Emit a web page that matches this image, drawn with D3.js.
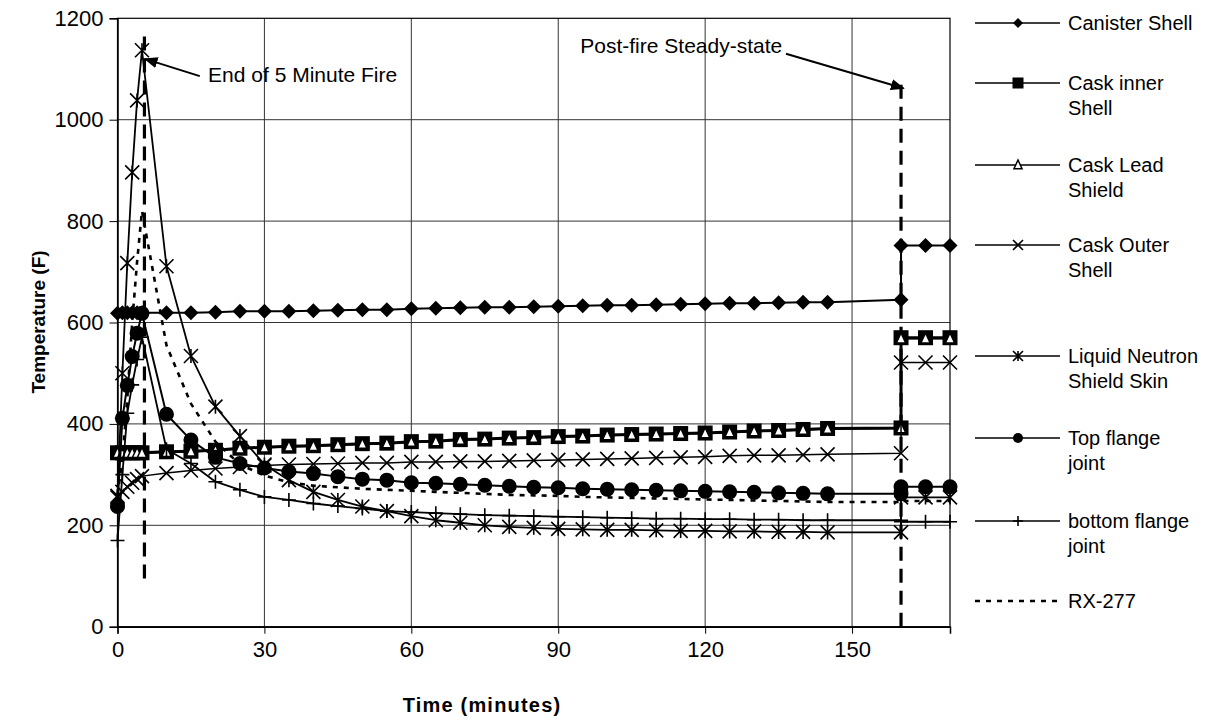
<!DOCTYPE html>
<html><head><meta charset="utf-8">
<script src="https://cdn.jsdelivr.net/npm/d3@7"></script>
<style>body{margin:0;background:#fff} text{font-family:"Liberation Sans",Arial,sans-serif;fill:#000}</style>
</head><body><svg id="c" width="1224" height="721"></svg>
<script>
// ---- data ----
const times = [0,1,2,3,4,5,10,15,20,25,30,35,40,45,50,55,60,65,70,75,80,85,90,95,100,105,110,115,120,125,130,135,140,145,160,160,165,170];
const canisterShell = [618,619,619,619,619,619,619,619,620,622,622,622,623,624,625,625,627,628,629,630,630,631,632,633,634,634,635,636,637,638,638,639,640,640,645,752,752,752];
const caskInnerShell = [343,343,343,343,343,343,345,346,348,352,354,356,357,359,361,362,365,366,369,370,372,373,375,376,378,379,380,381,382,384,386,387,389,391,392,570,570,570];
const caskLeadShield = [342,342,342,342,342,342,344,345,347,351,353,355,356,358,360,361,364,365,368,369,371,372,374,375,377,378,379,380,381,383,385,386,388,390,391,568,568,568];
const caskOuterShell = [255,266,276,284,291,297,303,308,312,315,318,320,321,322,323,323,325,325,326,326,327,328,329,330,331,332,333,334,335,337,338,338,339,340,342,521,521,521];
const neutronShieldSkin = [258,500,717,896,1038,1137,711,534,434,376,320,289,266,250,237,228,218,210,205,200,197,195,193,192,191,191,190,189,189,188,188,187,187,186,186,255,255,255];
const topFlangeJoint = [237,411,476,533,579,618,419,368,334,322,313,306,302,296,291,289,284,283,281,279,277,275,274,272,271,270,269,268,267,266,265,264,263,262,262,276,276,276];
const bottomFlangeJoint = [170,300,421,477,527,571,350,322,286,270,256,250,243,238,233,228,226,224,222,220,219,218,217,216,215,214,213,213,212,212,211,211,210,210,210,207,207,207];
const rx277 = [260,330,450,600,720,820,555,440,365,320,298,285,278,275,272,270,268,266,264,262,260,259,258,256,255,254,253,252,251,250,249,248,247,246,246,248,248,248];
const seriesNames = ["Canister Shell","Cask inner|Shell","Cask Lead|Shield","Cask Outer|Shell","Liquid Neutron|Shield Skin","Top flange|joint","bottom flange|joint","RX-277"];
const xTicks = [0,30,60,90,120,150];
const yTicks = [0,200,400,600,800,1000,1200];
const fireEndLine = {t:5.5, from:95, to:1175};
const steadyLine = {t:160, from:0, to:1080};
const annotations = [
  {text:"End of 5 Minute Fire", tx:18.5, ty:1088, ax0:16.8, ay0:1086, ax1:5.6, ay1:1120},
  {text:"Post-fire Steady-state", tx:94.5, ty:1147, ax0:136.5, ay0:1130, ax1:160.5, ay1:1062}
];

// ---- chart ----
const svg = d3.select('#c');
const x = d3.scaleLinear().domain([0,170]).range([117.5,950]);
const y = d3.scaleLinear().domain([0,1200]).range([626.7,18.3]);

// grid
svg.append('g').selectAll('line').data(yTicks.filter(d=>d>0&&d<1200)).join('line')
  .attr('x1',x(0)).attr('x2',x(170)).attr('y1',d=>y(d)).attr('y2',d=>y(d))
  .attr('stroke','#333').attr('stroke-width',1);
svg.append('g').selectAll('line').data(xTicks.filter(d=>d>0)).join('line')
  .attr('y1',y(0)).attr('y2',y(1200)).attr('x1',d=>x(d)).attr('x2',d=>x(d))
  .attr('stroke','#333').attr('stroke-width',1);
// border
svg.append('rect').attr('x',x(0)).attr('y',y(1200)).attr('width',x(170)-x(0)).attr('height',y(0)-y(1200))
  .attr('fill','none').attr('stroke','#000').attr('stroke-width',1.2);

// axes
const yAxis = d3.axisLeft(y).tickValues(yTicks).tickSize(8).tickPadding(6).tickFormat(d3.format('d'));
const gy = svg.append('g').attr('transform',`translate(${x(0)},0)`).call(yAxis);
gy.select('.domain').attr('stroke','#000').attr('stroke-width',1.5);
gy.selectAll('.tick line').attr('stroke','#000');
gy.selectAll('text').style('font-size','22px').attr('font-family','Liberation Sans, Arial');
const xAxis = d3.axisBottom(x).tickValues(xTicks).tickSize(7).tickPadding(8);
const gx = svg.append('g').attr('transform',`translate(0,${y(0)})`).call(xAxis);
gx.select('.domain').attr('stroke','#000').attr('stroke-width',1.5);
gx.selectAll('.tick line').attr('stroke','#000');
gx.selectAll('text').style('font-size','22px').attr('font-family','Liberation Sans, Arial');

// axis titles
svg.append('text').attr('x',482).attr('y',712).attr('text-anchor','middle')
  .style('font-size','20px').style('font-weight','bold').style('letter-spacing','1.2px').text('Time (minutes)');
svg.append('text').attr('transform','translate(45,322) rotate(-90)').attr('text-anchor','middle')
  .style('font-size','19px').style('font-weight','bold').text('Temperature (F)');

// vertical dashed reference lines
[fireEndLine, steadyLine].forEach(l=>{
  svg.append('line').attr('x1',x(l.t)).attr('x2',x(l.t)).attr('y1',y(l.from)).attr('y2',y(l.to))
    .attr('stroke','#000').attr('stroke-width',3.2).attr('stroke-dasharray','14,8');
});

// markers
function marker(g, type, cx, cy, s){
  const h=s/2;
  if(type==='diamond') g.append('path').attr('d',`M${cx},${cy-h}L${cx+h},${cy}L${cx},${cy+h}L${cx-h},${cy}Z`).attr('fill','#000');
  else if(type==='square') g.append('rect').attr('x',cx-h).attr('y',cy-h).attr('width',s).attr('height',s).attr('fill','#000');
  else if(type==='triangle') { const t=s*0.62; g.append('path').attr('d',`M${cx},${cy-t*0.62}L${cx+t/2},${cy+t*0.45}L${cx-t/2},${cy+t*0.45}Z`).attr('fill','#fff').attr('stroke','#000').attr('stroke-width',1.5);}
  else if(type==='x') g.append('path').attr('d',`M${cx-h},${cy-h}L${cx+h},${cy+h}M${cx-h},${cy+h}L${cx+h},${cy-h}`).attr('stroke','#000').attr('stroke-width',1.6);
  else if(type==='star') g.append('path').attr('d',`M${cx-h},${cy-h}L${cx+h},${cy+h}M${cx-h},${cy+h}L${cx+h},${cy-h}M${cx},${cy-h}L${cx},${cy+h}`).attr('stroke','#000').attr('stroke-width',1.6);
  else if(type==='circle') g.append('circle').attr('cx',cx).attr('cy',cy).attr('r',h).attr('fill','#000');
  else if(type==='plus') g.append('path').attr('d',`M${cx-h},${cy}L${cx+h},${cy}M${cx},${cy-h}L${cx},${cy+h}`).attr('stroke','#000').attr('stroke-width',1.6);
}

const series = [
  {vals:canisterShell, m:'diamond', ms:15, lw:2},
  {vals:caskInnerShell, m:'square', ms:15, lw:3},
  {vals:caskLeadShield, m:'triangle', ms:15, lw:1.5},
  {vals:caskOuterShell, m:'x', ms:14, lw:1.5},
  {vals:neutronShieldSkin, m:'star', ms:14, lw:1.8},
  {vals:topFlangeJoint, m:'circle', ms:15, lw:2},
  {vals:bottomFlangeJoint, m:'plus', ms:14, lw:1.8},
  {vals:rx277, m:null, ms:0, lw:2.6, dash:'5,6'}
];
const line = d3.line().x(d=>x(d[0])).y(d=>y(d[1]));
series.forEach((s,i)=>{
  const pts = times.map((t,j)=>[t,s.vals[j]]);
  const g = svg.append('g');
  g.append('path').attr('d',line(pts)).attr('fill','none').attr('stroke','#000')
    .attr('stroke-width',s.lw).attr('stroke-dasharray',s.dash||null).attr('stroke-linejoin','round');
  if(s.m) pts.forEach(p=>marker(g,s.m,x(p[0]),y(p[1]),s.ms));
});

// annotations
svg.append('defs').append('marker').attr('id','ah').attr('viewBox','0 0 10 10').attr('refX',9).attr('refY',5)
  .attr('markerWidth',7).attr('markerHeight',7).attr('orient','auto')
  .append('path').attr('d','M0,1L10,5L0,9Z').attr('fill','#000');
annotations.forEach(a=>{
  svg.append('line').attr('x1',x(a.ax0)).attr('y1',y(a.ay0)).attr('x2',x(a.ax1)).attr('y2',y(a.ay1))
    .attr('stroke','#000').attr('stroke-width',2).attr('marker-end','url(#ah)');
  svg.append('text').attr('x',x(a.tx)).attr('y',y(a.ty)).attr('dy','0.35em').style('font-size','21px').text(a.text);
});

// legend
const legY = [23,83,165,245,356,438,521,601];
const lg = svg.append('g');
series.forEach((s,i)=>{
  const yy = legY[i];
  lg.append('line').attr('x1',975).attr('x2',1060).attr('y1',yy).attr('y2',yy).attr('stroke','#000')
    .attr('stroke-width', s.dash?2.6:1.5).attr('stroke-dasharray',s.dash||null);
  if(s.m) marker(lg, s.m, 1018, yy, s.m==='triangle'?13:(s.m==='square'?11:10));
  const lines = seriesNames[i].split('|');
  lines.forEach((t,k)=>lg.append('text').attr('x',1068).attr('y',yy+k*24.5).attr('dy','0.35em').style('font-size','20px').text(t));
});
</script></body></html>
